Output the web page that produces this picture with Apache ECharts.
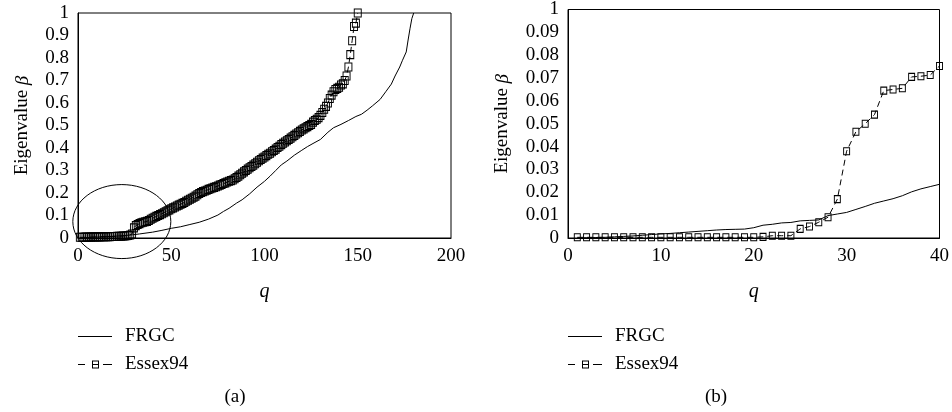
<!DOCTYPE html>
<html>
<head>
<meta charset="utf-8">
<script src="https://cdn.jsdelivr.net/npm/echarts@6/dist/echarts.min.js"></script>
<style>
html, body { margin: 0; padding: 0; background: #fff; }
#chart { width: 952px; height: 412px; }
</style>
</head>
<body>
<div id="chart"></div>
<script>
"use strict";
// (a) Essex94, one value per q = 1..150
var essexLeft = [
    0.003, 0.003, 0.003, 0.004, 0.004, 0.004, 0.004, 0.005, 0.005, 0.005,
    0.005, 0.005, 0.006, 0.006, 0.006, 0.006, 0.006, 0.007, 0.007, 0.007,
    0.008, 0.008, 0.008, 0.009, 0.009, 0.010, 0.011, 0.013, 0.018, 0.045,
    0.055, 0.060, 0.064, 0.068, 0.070, 0.072, 0.074, 0.078, 0.083, 0.088,
    0.092, 0.096, 0.100, 0.104, 0.108, 0.112, 0.117, 0.121, 0.125, 0.130,
    0.134, 0.138, 0.142, 0.146, 0.150, 0.154, 0.158, 0.163, 0.168, 0.172,
    0.177, 0.181, 0.186, 0.192, 0.198, 0.202, 0.206, 0.209, 0.212, 0.216,
    0.219, 0.222, 0.225, 0.228, 0.231, 0.235, 0.238, 0.242, 0.245, 0.249,
    0.252, 0.255, 0.258, 0.263, 0.269, 0.275, 0.281, 0.288, 0.294, 0.300,
    0.306, 0.312, 0.318, 0.324, 0.330, 0.337, 0.343, 0.349, 0.355, 0.360,
    0.366, 0.372, 0.377, 0.383, 0.389, 0.395, 0.402, 0.408, 0.415, 0.421,
    0.427, 0.432, 0.438, 0.444, 0.450, 0.456, 0.462, 0.468, 0.474, 0.480,
    0.485, 0.490, 0.495, 0.500, 0.505, 0.515, 0.522, 0.528, 0.535, 0.545,
    0.558, 0.572, 0.585, 0.600, 0.620, 0.635, 0.650, 0.660, 0.665, 0.670,
    0.680, 0.685, 0.700, 0.720, 0.760, 0.815, 0.877, 0.940, 0.955, 1.000
];
// (a) FRGC, [q, value]
var frgcLeft = [
    [1, 0.000], [5, 0.002], [10, 0.004], [15, 0.006], [20, 0.008], [25, 0.011],
    [29, 0.014], [33, 0.018], [40, 0.026], [45, 0.034], [50, 0.043], [55, 0.050],
    [60, 0.060], [65, 0.070], [70, 0.084], [75, 0.102], [78, 0.118], [81, 0.132],
    [85, 0.155], [88, 0.170], [92, 0.196], [96, 0.226], [100, 0.252], [103, 0.275],
    [106, 0.300], [109, 0.325], [112, 0.342], [116, 0.368], [120, 0.390], [123, 0.406],
    [126, 0.420], [130, 0.438], [134, 0.470], [137, 0.490], [141, 0.505], [145, 0.522],
    [149, 0.540], [152, 0.550], [155, 0.568], [158, 0.588], [162, 0.616], [165, 0.650],
    [168, 0.684], [170, 0.720], [172.5, 0.760], [174, 0.790], [176, 0.827], [177, 0.880],
    [178, 0.930], [179, 0.975], [180, 1.000]
];
// (b) q = 1..40
var frgcRight = [
    0.0000, 0.0001, 0.0002, 0.0003, 0.0005, 0.0007, 0.0009, 0.0012, 0.0015, 0.0018,
    0.0020, 0.0023, 0.0026, 0.0029, 0.0032, 0.0035, 0.0037, 0.0038, 0.0039, 0.0045,
    0.0056, 0.0060, 0.0066, 0.0068, 0.0075, 0.0077, 0.0079, 0.0098, 0.0105, 0.0112,
    0.0125, 0.0138, 0.0152, 0.0162, 0.0172, 0.0185, 0.0202, 0.0215, 0.0225, 0.0235
];
var essexRight = [
    0.0003, 0.0003, 0.0003, 0.0003, 0.0003, 0.0003, 0.0003, 0.0003, 0.0003, 0.0003,
    0.0003, 0.0003, 0.0003, 0.0003, 0.0003, 0.0003, 0.0003, 0.0003, 0.0003, 0.0003,
    0.0005, 0.0010, 0.0010, 0.0010, 0.0040, 0.0050, 0.0069, 0.0091, 0.0170, 0.0380,
    0.0465, 0.0500, 0.0540, 0.0645, 0.0650, 0.0655, 0.0705, 0.0708, 0.0713, 0.0753
];
var xTicksLeft = [0, 200, 50];
var xTicksRight = [0, 40, 10];
var seriesNames = ['FRGC', 'Essex94'];

var FONT = 'Liberation Serif';
//legend keys: plain bar, and "dash box dash"
var ICON_FRGC = 'path://M0,0H34V1H0Z';
var ICON_ESSEX = 'path://M0,3.5H7V4.5H0Z M14,0H21V8H14Z M15,1V7H20V1Z M15,3.5H20V4.5H15Z M25,3.5H34V4.5H25Z';

function withQ(list) {
    return list.map(function (v, i) { return [i + 1, v]; });
}

function xAxis(idx, ticks) {
    return {
        type: 'value', gridIndex: idx, min: ticks[0], max: ticks[1], interval: ticks[2],
        name: 'q', nameLocation: 'middle', nameGap: 44,
        nameTextStyle: { fontFamily: FONT, fontSize: 20, fontStyle: 'italic', color: '#000' },
        axisLine: { lineStyle: { color: '#000', width: 1 } },
        axisTick: { show: false },
        splitLine: { show: false },
        axisLabel: { fontFamily: FONT, fontSize: 19, color: '#000', margin: 9 }
    };
}

function yAxis(idx, max, step, gap, fmt) {
    return {
        type: 'value', gridIndex: idx, min: 0, max: max, interval: step,
        name: 'Eigenvalue {i|β}', nameLocation: 'middle', nameGap: gap,
        nameTextStyle: {
            fontFamily: FONT, fontSize: 19, color: '#000',
            rich: { i: { fontFamily: FONT, fontSize: 19, fontStyle: 'italic', color: '#000' } }
        },
        axisLine: { show: true, lineStyle: { color: '#000', width: 1 } },
        axisTick: { show: false },
        splitLine: { show: false },
        axisLabel: { fontFamily: FONT, fontSize: 19, color: '#000', margin: 9, formatter: fmt }
    };
}

function frgcSeries(idx, data) {
    return {
        name: 'FRGC', type: 'line', xAxisIndex: idx, yAxisIndex: idx,
        data: data, showSymbol: false, symbol: 'none',
        lineStyle: { color: '#000', width: 1 },
        itemStyle: { color: '#000' }
    };
}

function essexSeries(idx, data, size) {
    return {
        name: 'Essex94', type: 'line', xAxisIndex: idx, yAxisIndex: idx,
        data: data, symbol: 'rect', symbolSize: size, showAllSymbol: true,
        lineStyle: { color: '#000', width: 1, type: [6, 4] },
        itemStyle: { color: 'rgba(255,255,255,0)', borderColor: '#000', borderWidth: 1 }
    };
}

function legend(left) {
    return {
        left: left, top: 327, orient: 'vertical', padding: 0,
        data: [
            { name: seriesNames[0], icon: ICON_FRGC, itemStyle: { color: '#000', borderWidth: 0 } },
            { name: seriesNames[1], icon: ICON_ESSEX, itemStyle: { color: '#000', borderWidth: 0 } }
        ],
        itemWidth: 34, itemHeight: 8, itemGap: 9,
        textStyle: { fontFamily: FONT, fontSize: 19, color: '#000', padding: [0, 0, 0, 8] }
    };
}

var myChart = echarts.init(document.getElementById('chart'), null, { renderer: 'canvas' });
var option = {
    animation: false,
    backgroundColor: '#fff',
    grid: [
        { left: 78, right: 501, top: 13, bottom: 174, show: true, borderColor: '#000', borderWidth: 1 },
        { left: 568, right: 9, top: 9, bottom: 174, show: true, borderColor: '#000', borderWidth: 1 }
    ],
    xAxis: [xAxis(0, xTicksLeft), xAxis(1, xTicksRight)],
    yAxis: [
        yAxis(0, 1, 0.1, 46, function (v) { return String(+v.toFixed(1)); }),
        yAxis(1, 0.1, 0.01, 56, function (v) { return v > 0.0999 ? '1' : String(+v.toFixed(2)); })
    ],
    legend: [legend(78), legend(568)],
    series: [
        frgcSeries(0, frgcLeft),
        essexSeries(0, withQ(essexLeft), [7, 8]),
        frgcSeries(1, withQ(frgcRight)),
        essexSeries(1, withQ(essexRight), [6, 7])
    ]
};
myChart.setOption(option);

// the ellipse round the flat start of (a), and the panel captions
var c = myChart.convertToPixel({ gridIndex: 0 }, [23.5, 0.073]);
myChart.setOption({
    graphic: [
        { type: 'ellipse', shape: { cx: c[0], cy: c[1], rx: 49, ry: 37 },
          style: { fill: 'none', stroke: '#000', lineWidth: 1 }, z: 10 },
        { type: 'text', x: 235, y: 397,
          style: { text: '(a)', font: '19px "Liberation Serif"', fill: '#000', align: 'center', verticalAlign: 'middle' } },
        { type: 'text', x: 716, y: 397,
          style: { text: '(b)', font: '19px "Liberation Serif"', fill: '#000', align: 'center', verticalAlign: 'middle' } }
    ]
});
</script>
</body>
</html>
